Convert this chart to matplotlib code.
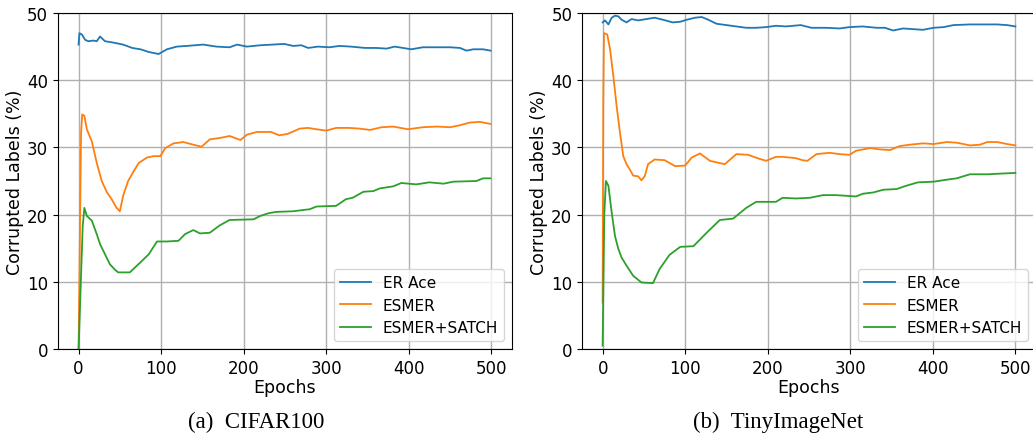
import matplotlib
matplotlib.use("Agg")
import matplotlib.pyplot as plt

# ---------------- CIFAR100 ----------------
c_er_ep = [0, 1, 4, 8, 12, 18, 22, 26, 32, 42, 54, 65, 75, 85, 97, 107, 119, 131, 151, 167,
           183, 192, 204, 220, 235, 249, 260, 270, 278, 290, 304, 316, 330, 347, 361, 373, 383,
           393, 403, 417, 434, 450, 462, 470, 478, 490, 499]
c_er = [45.3, 47.0, 46.8, 46.0, 45.8, 45.9, 45.8, 46.5, 45.8, 45.6, 45.3, 44.8, 44.6, 44.2, 43.9,
        44.6, 45.0, 45.1, 45.3, 45.0, 44.9, 45.3, 45.0, 45.2, 45.3, 45.4, 45.1, 45.2, 44.8, 45.0,
        44.9, 45.1, 45.0, 44.8, 44.8, 44.7, 45.0, 44.8, 44.6, 44.9, 44.9, 44.9, 44.8, 44.4, 44.6,
        44.6, 44.4]

c_esmer_ep = [0, 3, 4.4, 7, 10, 16, 22, 28, 34, 40, 46, 50, 54, 60, 67, 73, 83, 91, 99, 105,
              115, 127, 139, 149, 159, 171, 183, 196, 204, 216, 225, 233, 243, 253, 268, 278,
              288, 300, 312, 328, 340, 353, 367, 381, 399, 417, 434, 450, 462, 474, 486, 499]
c_esmer = [0, 32.2, 34.9, 34.7, 32.7, 30.9, 27.7, 25.0, 23.4, 22.3, 21.0, 20.5, 22.8, 25.0,
           26.5, 27.7, 28.5, 28.7, 28.7, 29.9, 30.6, 30.8, 30.4, 30.1, 31.2, 31.4, 31.7, 31.1,
           31.9, 32.3, 32.3, 32.3, 31.8, 32.0, 32.8, 32.9, 32.7, 32.5, 32.9, 32.9, 32.8, 32.6,
           33.0, 33.1, 32.7, 33.0, 33.1, 33.0, 33.3, 33.7, 33.8, 33.5]

c_satch_ep = [0, 5, 7, 10, 16, 22, 26, 32, 38, 44, 48, 62, 75, 85, 95, 107, 121, 129, 139, 147,
              159, 171, 183, 212, 220, 230, 239, 260, 280, 288, 312, 324, 332, 345, 357, 365,
              381, 391, 409, 425, 442, 454, 482, 490, 499]
c_satch = [0, 18.3, 21.0, 19.8, 19.1, 17.1, 15.6, 14.1, 12.6, 11.8, 11.4, 11.4, 12.9, 14.1, 16.0,
           16.0, 16.1, 17.1, 17.7, 17.2, 17.3, 18.4, 19.2, 19.3, 19.8, 20.2, 20.4, 20.5, 20.8,
           21.2, 21.3, 22.3, 22.5, 23.4, 23.5, 23.9, 24.2, 24.7, 24.5, 24.8, 24.6, 24.9, 25.0,
           25.4, 25.4]

# ---------------- TinyImageNet ----------------
t_er_ep = [0, 3, 7, 11, 15, 19, 23, 29, 35, 43, 53, 63, 73, 85, 94, 102, 112, 120, 128, 138,
           150, 162, 174, 186, 198, 210, 222, 240, 253, 271, 287, 299, 315, 332, 342, 352, 364,
           376, 388, 401, 413, 425, 445, 466, 478, 490, 500]
t_er = [48.6, 48.9, 48.3, 49.3, 49.6, 49.5, 49.0, 48.6, 49.1, 48.9, 49.1, 49.3, 49.0, 48.6, 48.7,
        49.0, 49.3, 49.4, 49.0, 48.4, 48.2, 48.0, 47.8, 47.8, 47.9, 48.1, 48.0, 48.2, 47.8, 47.8,
        47.7, 47.9, 48.0, 47.8, 47.8, 47.4, 47.7, 47.6, 47.5, 47.8, 47.9, 48.2, 48.3, 48.3, 48.3,
        48.2, 48.0]

t_esmer_ep = [0, 0.8, 1.6, 5.6, 9, 13, 17, 21, 25, 29, 33, 37, 43, 47, 51, 55, 63, 75, 88, 100,
              108, 118, 130, 148, 162, 176, 190, 198, 210, 218, 234, 242, 248, 259, 275, 287,
              299, 307, 324, 336, 348, 360, 372, 388, 401, 417, 429, 445, 457, 466, 478, 490, 500]
t_esmer = [6.9, 37.0, 47.0, 46.8, 44.6, 40.6, 36.1, 32.2, 28.7, 27.5, 26.7, 25.8, 25.7, 25.1,
           25.7, 27.5, 28.2, 28.1, 27.2, 27.3, 28.5, 29.1, 28.0, 27.5, 29.0, 28.9, 28.3, 28.0,
           28.6, 28.6, 28.4, 28.1, 28.0, 29.0, 29.2, 29.0, 28.9, 29.5, 29.9, 29.7, 29.6, 30.2,
           30.4, 30.6, 30.5, 30.8, 30.7, 30.3, 30.4, 30.8, 30.8, 30.5, 30.3]

t_satch_ep = [0, 2, 4, 7, 11, 15, 19, 23, 29, 37, 47, 61, 69, 81, 94, 110, 118, 126, 142, 158,
              174, 186, 202, 210, 218, 234, 251, 267, 283, 307, 315, 328, 340, 356, 368, 382,
              401, 417, 429, 445, 466, 482, 500]
t_satch = [0.5, 20.0, 25.0, 24.3, 20.3, 16.8, 14.9, 13.6, 12.4, 10.9, 9.9, 9.8, 11.9, 14.0, 15.2,
           15.3, 16.3, 17.3, 19.2, 19.4, 21.0, 21.9, 21.9, 21.9, 22.5, 22.4, 22.5, 22.9, 22.9,
           22.7, 23.1, 23.3, 23.7, 23.8, 24.3, 24.8, 24.9, 25.2, 25.4, 26.0, 26.0, 26.1, 26.2]

labels = ['ER Ace', 'ESMER', 'ESMER+SATCH']
captions = ['(a)  CIFAR100', '(b)  TinyImageNet']

panels = [
    [(c_er_ep, c_er), (c_esmer_ep, c_esmer), (c_satch_ep, c_satch)],
    [(t_er_ep, t_er), (t_esmer_ep, t_esmer), (t_satch_ep, t_satch)],
]

fig = plt.figure(figsize=(10.33, 4.35), dpi=100)
positions = [[0.0561, 0.1954, 0.4395, 0.7724],
             [0.5634, 0.1954, 0.4395, 0.7724]]
centers = [0.248, 0.753]

for i, series in enumerate(panels):
    ax = fig.add_axes(positions[i])
    for (ep, val), lab in zip(series, labels):
        ax.plot(ep, val, label=lab, linewidth=1.3)
    ax.set_ylim(0, 50)
    ax.set_xlim(-25, 525)
    ax.set_xticks([0, 100, 200, 300, 400, 500])
    ax.set_yticks([0, 10, 20, 30, 40, 50])
    ax.grid(True, color='#b0b0b0', linewidth=1.0)
    ax.set_axisbelow(True)
    ax.tick_params(labelsize=12)
    ax.set_xlabel('Epochs', fontsize=12.5, labelpad=1)
    ax.set_ylabel('Corrupted Labels (%)', fontsize=12.5, labelpad=2)
    ax.legend(loc='lower right', fontsize=11)
    fig.text(centers[i], 0.028, captions[i], ha='center', va='center',
             family='Liberation Serif', fontsize=16.5)

fig.savefig('out.png', dpi=100)
